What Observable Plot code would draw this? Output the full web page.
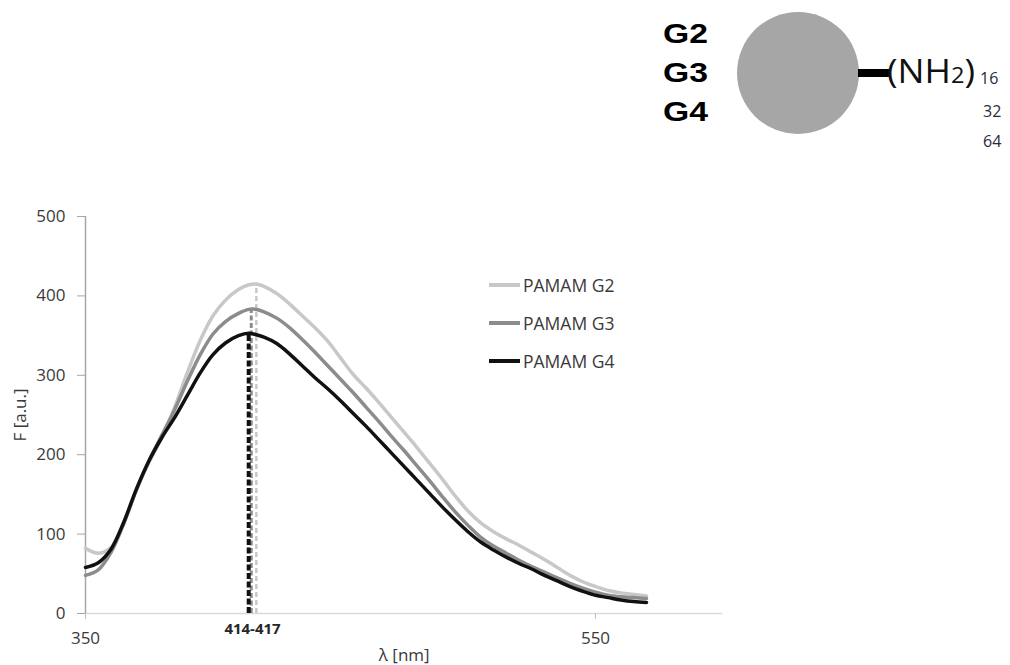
<!DOCTYPE html>
<html>
<head>
<meta charset="utf-8">
<script src="https://cdn.jsdelivr.net/npm/d3@7"></script>
<script src="https://cdn.jsdelivr.net/npm/@observablehq/plot@0.6"></script>
<style>
  html, body { margin: 0; padding: 0; background: #fff; }
  body { width: 1010px; height: 665px; position: relative; overflow: hidden; font-family: "Open Sans", sans-serif; }
  #diagram { position: absolute; left: 0; top: 0; }
  #chart { position: absolute; left: 0; top: 200px; }
  #legend { position: absolute; left: 489px; top: 270px; }
  .item { position: absolute; left: 0; height: 30px; display: flex; align-items: center; white-space: nowrap; }
  .sw { width: 31px; height: 4px; margin-right: 3px; }
  .lab { font-size: 17.5px; color: #3a3a3a; }
</style>
</head>
<body>
<svg id="diagram" width="1010" height="200">
  <g font-family="'Liberation Sans', Arial, sans-serif" font-weight="bold" font-size="28" fill="#000">
    <text x="663" y="43" textLength="45" lengthAdjust="spacingAndGlyphs">G2</text>
    <text x="663" y="82" textLength="45" lengthAdjust="spacingAndGlyphs">G3</text>
    <text x="663" y="121" textLength="45" lengthAdjust="spacingAndGlyphs">G4</text>
  </g>
  <circle cx="798" cy="73" r="61" fill="#a6a6a6"></circle>
  <rect x="858" y="69" width="31" height="8" fill="#000"></rect>
  <text x="887" y="83" font-family="'Open Sans', sans-serif" font-size="32" fill="#111" textLength="88" lengthAdjust="spacingAndGlyphs">(NH<tspan font-size="21">2</tspan>)</text>
  <g font-family="'Open Sans', sans-serif" font-size="16" fill="#2a2a3a">
    <text x="980" y="84">16</text>
    <text x="983" y="117">32</text>
    <text x="983" y="147">64</text>
  </g>
</svg>
<div id="chart"></div>
<div id="legend"></div>
<script>
// ---- data ----
const wavelengths = [350,355,360,365,370,375,380,385,390,395,400,405,410,414,417,420,425,430,435,440,445,450,455,460,465,470,475,480,485,490,495,500,505,510,515,520,525,530,535,540,545,550,555,560,565,570];
const g2Values = [82,76,83,114,156,191,222,260,304,344,375,395,408,414,415,412,403,390,375,360,343,322,301,284,266,247,228,209,189,169,148,129,114,103,94,86,77,68,58,48,40,34,29,26,24,22];
const g3Values = [48,55,77,113,156,193,225,257,293,326,352,368,378,383,383,380,372,360,345,329,312,295,278,260,242,223,205,186,167,147,128,111,96,85,76,67,59,52,45,38,32,27,23,21,20,19];
const g4Values = [58,64,81,115,157,193,222,247,275,303,326,341,350,353,351,348,340,327,312,297,283,268,252,236,219,202,185,168,151,134,118,103,90,80,71,63,56,48,41,34,28,23,20,17,15,14];
const seriesNames = ["PAMAM G2","PAMAM G3","PAMAM G4"];
const seriesColors = ["#c8c8c8","#8c8c8c","#111111"];
const peakWavelengths = [417,415,414];
const peakValues = [415,383,353];
const peakDash = ["5,3","5,2.5","6,2.5"];
const peakWidth = [2.5,3,4];
const peakLabel = "414-417";
const xTicks = [350,550];
const yTicks = [0,100,200,300,400,500];
const xLabel = "λ [nm]";
const yLabel = "F [a.u.]";

// ---- build tables ----
const allSeries = [g2Values, g3Values, g4Values];
const rows = [];
allSeries.forEach((vals, i) => vals.forEach((v, j) => rows.push({series: seriesNames[i], x: wavelengths[j], y: v})));
const peaks = peakWavelengths.map((x, i) => ({series: seriesNames[i], x, y: peakValues[i]}));
const peakCenter = (d3.min(peakWavelengths) + d3.max(peakWavelengths)) / 2;

const peakRules = peaks.map((p, i) =>
  Plot.ruleX([p], {x: "x", y1: 0, y2: "y", stroke: seriesColors[i], strokeWidth: peakWidth[i], strokeDasharray: peakDash[i]})
);

const chart = Plot.plot({
  width: 1010,
  height: 465,
  marginLeft: 85,
  marginRight: 287.5,
  marginTop: 16,
  marginBottom: 52,
  x: {domain: [350, 600]},
  y: {domain: [0, 500]},
  color: {domain: seriesNames, range: seriesColors},
  style: {fontFamily: "'Open Sans', sans-serif", fontSize: "17px", background: "#fff", color: "#3a3a3a"},
  marks: [
    Plot.ruleY([0], {stroke: "#d9d9d9", strokeWidth: 1.5}),
    Plot.ruleX([350], {stroke: "#a6a6a6", strokeWidth: 1.5}),
    Plot.axisY({ticks: yTicks, tickSize: 8, tickPadding: 12, stroke: "#a6a6a6", fill: "#3a3a3a",
      label: yLabel, labelAnchor: "center", labelOffset: 72, labelArrow: "none", fontSize: 17}),
    Plot.axisX({ticks: xTicks, tickSize: 6, tickPadding: 12, stroke: "#bfbfbf", fill: "#3a3a3a",
      label: xLabel, labelAnchor: "center", labelOffset: 47, labelArrow: "none", fontSize: 17}),
    ...peakRules,
    Plot.line(rows, {x: "x", y: "y", z: "series", stroke: "series", strokeWidth: 3.5, curve: "catmull-rom"}),
    Plot.text([peakLabel], {x: peakCenter, y: 0, text: d => d, dy: 16, fontWeight: "bold", fontSize: 15, fill: "#262626"})
  ]
});
document.getElementById("chart").appendChild(chart);

// ---- legend ----
const legend = document.getElementById("legend");
seriesNames.forEach((name, i) => {
  const item = document.createElement("div");
  item.className = "item";
  item.style.top = (i * 38) + "px";
  const sw = document.createElement("div");
  sw.className = "sw";
  sw.style.background = seriesColors[i];
  const lab = document.createElement("span");
  lab.className = "lab";
  lab.textContent = name;
  item.appendChild(sw);
  item.appendChild(lab);
  legend.appendChild(item);
});
</script>
</body>
</html>
